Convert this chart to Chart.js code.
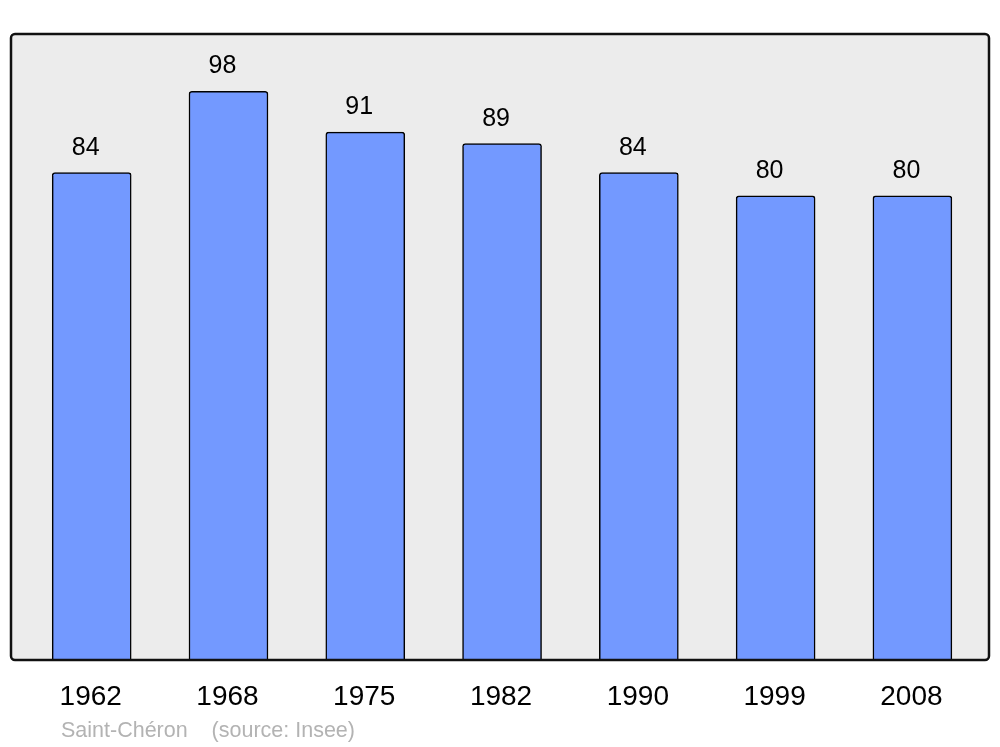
<!DOCTYPE html>
<html lang="fr">
<head>
  <meta charset="UTF-8" />
  <title>Saint-Chéron - population</title>
  <script src="https://cdn.jsdelivr.net/npm/chart.js"></script>
  <style>
    body { margin: 0; background: #ffffff; }
    #wrap { width: 1000px; height: 747px; position: relative; }
  </style>
</head>
<body>
  <div id="wrap"><canvas id="chart" width="1000" height="747"></canvas></div>

  <script>
    const years = ['1962', '1968', '1975', '1982', '1990', '1999', '2008'];
    const population = [84, 98, 91, 89, 84, 80, 80];
    const footer = 'Saint-Chéron    (source: Insee)';

    const FONT = '"Liberation Sans", Arial, sans-serif';

    // grey panel with black frame behind/over the bars
    const framePlugin = {
      id: 'frame',
      beforeDatasetsDraw(chart) {
        const a = chart.chartArea, ctx = chart.ctx;
        ctx.save();
        ctx.beginPath();
        ctx.roundRect(a.left, a.top, a.right - a.left, a.bottom - a.top, 4);
        ctx.fillStyle = '#ececec';
        ctx.fill();
        ctx.restore();
      },
      afterDatasetsDraw(chart) {
        const a = chart.chartArea, ctx = chart.ctx;
        ctx.save();
        ctx.beginPath();
        ctx.roundRect(a.left, a.top, a.right - a.left, a.bottom - a.top, 4);
        ctx.lineWidth = 2.5;
        ctx.strokeStyle = '#111111';
        ctx.stroke();
        ctx.restore();
      }
    };

    // value labels above bars, year labels below, footer text
    const labelPlugin = {
      id: 'labels',
      afterDraw(chart) {
        const ctx = chart.ctx;
        const x = chart.scales.x, y = chart.scales.y;
        ctx.save();
        ctx.fillStyle = '#000000';
        ctx.textAlign = 'center';
        ctx.textBaseline = 'alphabetic';
        population.forEach((v, i) => {
          const px = x.getPixelForValue(i);
          ctx.font = '25px ' + FONT;
          ctx.fillText(String(v), px - 6, y.getPixelForValue(v) - 18);
          ctx.font = '28px ' + FONT;
          ctx.fillText(years[i], px - 1, 705);
        });
        ctx.textAlign = 'left';
        ctx.font = '21.5px ' + FONT;
        ctx.fillStyle = '#b3b3b3';
        ctx.fillText(footer, 61, 737);
        ctx.restore();
      }
    };

    new Chart(document.getElementById('chart'), {
      type: 'bar',
      data: {
        datasets: [{
          data: population.map((v, i) => ({ x: i, y: v })),
          backgroundColor: '#7399ff',
          borderColor: '#000000',
          borderWidth: 1.5,
          borderRadius: { topLeft: 3, topRight: 3, bottomLeft: 0, bottomRight: 0 },
          borderSkipped: 'bottom',
          barThickness: 79
        }]
      },
      options: {
        responsive: false,
        animation: false,
        layout: { padding: { left: 11, right: 11, top: 34, bottom: 87 } },
        plugins: { legend: { display: false }, tooltip: { enabled: false } },
        scales: {
          x: { type: 'linear', min: -0.59, max: 6.56, offset: false, display: false },
          y: { min: 0, max: 107.9, display: false }
        }
      },
      plugins: [framePlugin, labelPlugin]
    });
  </script>
</body>
</html>
